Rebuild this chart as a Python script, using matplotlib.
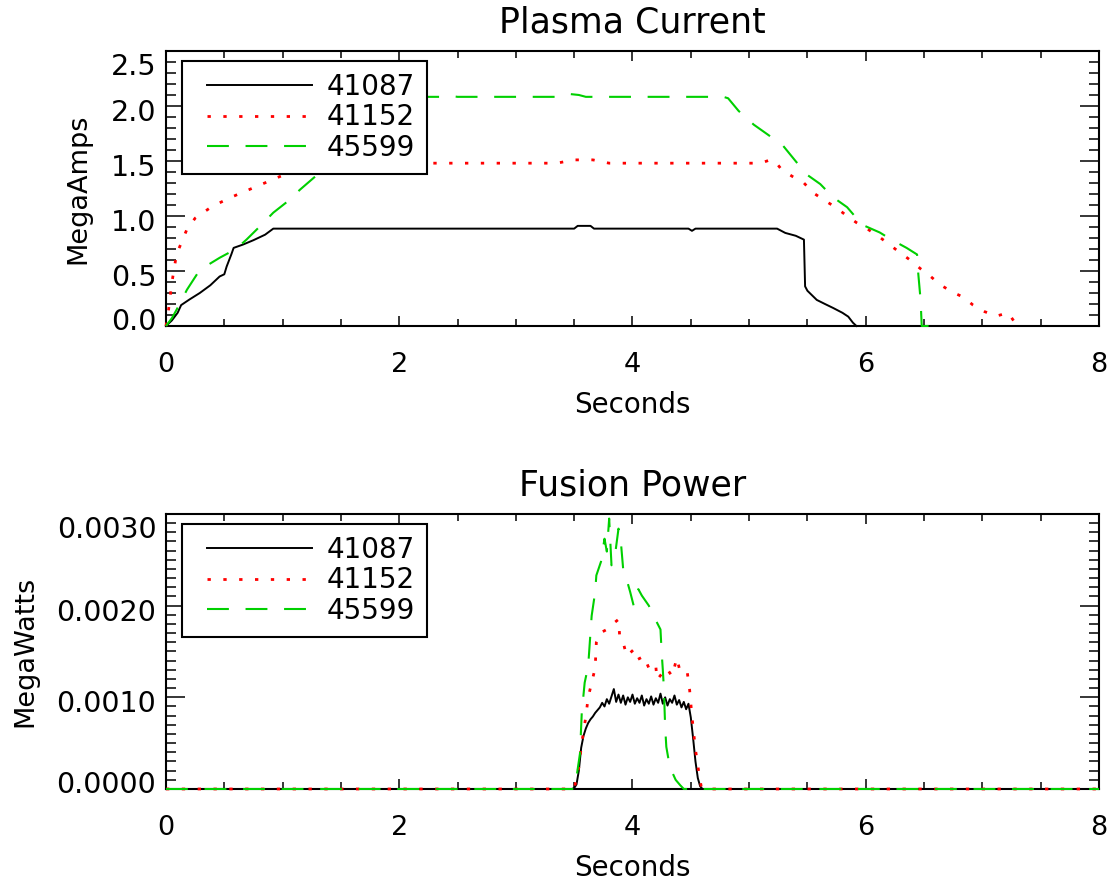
import numpy as np
import matplotlib
matplotlib.use("Agg")
import matplotlib.pyplot as plt
import matplotlib.transforms as mtransforms
from matplotlib.ticker import MultipleLocator, FormatStrFormatter
from matplotlib.legend_handler import HandlerLine2D

# shot numbers and colours
shots = ["41087", "41152", "45599"]
colors = ["black", "#ff0000", "#00d000"]

# plasma current (MA) vs time (s)
t_ip_41087 = [0.00, 0.05, 0.10, 0.13, 0.20, 0.29, 0.38, 0.46, 0.50, 0.52, 0.56, 0.58, 0.66, 0.75,
              0.85, 0.92, 0.95, 2.00, 3.50, 3.53, 3.64, 3.67, 4.48, 4.51, 4.54, 5.24, 5.31, 5.40,
              5.47, 5.48, 5.50, 5.58, 5.65, 5.72, 5.80, 5.85, 5.89, 5.92]
ip_41087 = [0.00, 0.05, 0.12, 0.19, 0.24, 0.30, 0.37, 0.45, 0.47, 0.54, 0.65, 0.71, 0.74, 0.78,
            0.83, 0.885, 0.885, 0.885, 0.885, 0.91, 0.91, 0.885, 0.885, 0.865, 0.885, 0.885, 0.846, 0.82,
            0.785, 0.36, 0.32, 0.237, 0.20, 0.164, 0.12, 0.085, 0.03, 0.00]

t_ip_41152 = [0.00, 0.02, 0.05, 0.09, 0.18, 0.25, 0.40, 0.58, 0.78, 0.98, 1.18, 1.26, 1.40, 2.00,
              3.00, 3.35, 3.50, 3.66, 3.80, 4.50, 5.10, 5.18, 5.22, 5.28, 5.37, 5.47, 5.55, 5.65,
              5.74, 5.84, 5.92, 6.01, 6.11, 6.19, 6.29, 6.38, 6.47, 6.55, 6.64, 6.74, 6.84, 6.92,
              7.02, 7.12, 7.22, 7.30]
ip_41152 = [0.00, 0.13, 0.39, 0.65, 0.88, 0.98, 1.09, 1.18, 1.27, 1.36, 1.45, 1.48, 1.48, 1.48,
            1.48, 1.48, 1.51, 1.51, 1.48, 1.48, 1.48, 1.51, 1.50, 1.42, 1.36, 1.30, 1.21, 1.14,
            1.08, 1.00, 0.94, 0.885, 0.815, 0.75, 0.67, 0.60, 0.52, 0.456, 0.374, 0.31, 0.26, 0.19,
            0.13, 0.09, 0.12, 0.00]

t_ip_45599 = [0.00, 0.05, 0.09, 0.18, 0.29, 0.46, 0.60, 0.69, 0.80, 0.92, 1.04, 1.15, 1.27, 1.38,
              1.50, 1.61, 1.71, 1.81, 1.95, 2.09, 2.15, 2.40, 2.45, 2.50, 3.36, 3.45, 3.54, 3.60,
              4.00, 4.78, 4.82, 4.91, 5.04, 5.16, 5.29, 5.39, 5.49, 5.61, 5.72, 5.84, 5.97, 6.12,
              6.22, 6.35, 6.44, 6.45, 6.47, 6.48, 6.61]
ip_45599 = [0.00, 0.07, 0.146, 0.33, 0.51, 0.62, 0.70, 0.785, 0.90, 1.03, 1.13, 1.24, 1.35, 1.45,
            1.56, 1.67, 1.76, 1.85, 1.94, 2.09, 2.083, 2.083, 2.09, 2.083, 2.083, 2.11, 2.10, 2.083,
            2.083, 2.083, 2.07, 1.955, 1.83, 1.74, 1.64, 1.51, 1.38, 1.29, 1.17, 1.08, 0.92, 0.85,
            0.785, 0.71, 0.65, 0.48, 0.24, 0.00, 0.00]

# fusion power, in units of 1e-4 MW
t_pf_41087 = [0.00, 3.48, 3.50, 3.52, 3.54, 3.56, 3.58, 3.60, 3.62, 3.64, 3.66, 3.68, 3.70, 3.72,
              3.74, 3.76, 3.78, 3.80, 3.82, 3.84, 3.86, 3.88, 3.90, 3.92, 3.94, 3.96, 3.98, 4.00,
              4.02, 4.04, 4.06, 4.08, 4.10, 4.12, 4.14, 4.16, 4.18, 4.20, 4.22, 4.24, 4.26, 4.28,
              4.30, 4.32, 4.34, 4.36, 4.38, 4.40, 4.42, 4.44, 4.46, 4.48, 4.50, 4.52, 4.54, 4.56,
              4.58, 4.60, 8.00]
pf_41087 = [0.0, 0.0, 0.1, 0.5, 2.0, 4.5, 5.8, 6.6, 7.2, 7.6, 7.9, 8.3, 8.6, 8.9,
            9.4, 9.0, 9.8, 9.3, 10.1, 10.9, 9.5, 10.3, 9.4, 10.2, 9.2, 10.0, 9.5, 10.3,
            9.3, 9.9, 9.4, 10.2, 9.1, 9.8, 9.3, 10.1, 9.2, 9.9, 9.4, 10.4, 9.3, 10.0,
            9.1, 9.8, 9.4, 10.2, 9.2, 9.7, 8.9, 9.5, 8.7, 9.3, 7.8, 5.5, 3.0, 1.2,
            0.3, 0.0, 0.0]

t_pf_41152 = [0.00, 3.50, 3.54, 3.565, 3.60, 3.62, 3.65, 3.68, 3.69, 3.72, 3.78, 3.85, 3.88, 3.89,
              3.92, 3.95, 4.01, 4.04, 4.10, 4.12, 4.15, 4.20, 4.21, 4.29, 4.34, 4.38, 4.41, 4.47,
              4.49, 4.51, 4.54, 4.57, 4.59, 4.61, 8.00]
pf_41152 = [0.0, 0.0, 2.4, 5.0, 7.9, 10.0, 11.6, 13.2, 16.0, 17.0, 17.4, 18.2, 18.5, 16.7,
            16.0, 14.5, 15.2, 14.1, 14.5, 13.8, 12.9, 13.4, 11.9, 13.2, 12.3, 14.3, 12.7, 12.7,
            10.8, 7.9, 4.3, 1.7, 0.2, 0.0, 0.0]

t_pf_45599 = [0.00, 3.50, 3.52, 3.55, 3.565, 3.59, 3.62, 3.64, 3.65, 3.68, 3.69, 3.73, 3.76, 3.78,
              3.80, 3.82, 3.85, 3.88, 3.90, 3.92, 3.94, 3.98, 4.01, 4.05, 4.08, 4.14, 4.18, 4.24,
              4.25, 4.26, 4.27, 4.275, 4.28, 4.29, 4.32, 4.37, 4.41, 4.44, 8.00]
pf_45599 = [0.0, 0.0, 1.3, 3.9, 8.3, 11.6, 13.4, 17.1, 18.9, 21.5, 23.3, 24.8, 27.3, 25.9,
            29.5, 24.4, 25.5, 28.4, 27.0, 24.0, 23.3, 21.5, 20.0, 21.8, 21.1, 20.0, 18.9, 17.4,
            14.9, 13.0, 10.8, 8.7, 6.8, 4.6, 2.4, 1.0, 0.4, 0.0, 0.0]

styles = [dict(linestyle="-", linewidth=1.4),
          dict(linestyle=(0, (1.2, 4.5)), linewidth=2.0),
          dict(linestyle=(0, (10.5, 8.0)), linewidth=1.5)]

plt.rcParams["font.family"] = "DejaVu Sans"

fig = plt.figure(figsize=(11.11, 8.88), dpi=100)
ax1 = fig.add_axes([0.1494, 0.6329, 0.8398, 0.3097])
ax2 = fig.add_axes([0.1494, 0.1115, 0.8398, 0.3097])


def style_axis(ax, ymajor, yminor, fmt):
    ax.set_xlim(0, 8)
    ax.xaxis.set_major_locator(MultipleLocator(2))
    ax.xaxis.set_minor_locator(MultipleLocator(0.5))
    ax.yaxis.set_major_locator(MultipleLocator(ymajor))
    ax.yaxis.set_minor_locator(MultipleLocator(yminor))
    ax.yaxis.set_major_formatter(FormatStrFormatter(fmt))
    ax.tick_params(axis="both", which="both", direction="in", top=True, right=True, width=1.1)
    ax.tick_params(axis="x", which="major", length=7, pad=19, labelsize=19.5)
    ax.tick_params(axis="x", which="minor", length=5)
    ax.tick_params(axis="y", which="major", length=14, pad=7, labelsize=20.5)
    ax.tick_params(axis="y", which="minor", length=7)
    for s in ax.spines.values():
        s.set_linewidth(1.5)
    ax.set_xlabel("Seconds", fontsize=20, labelpad=9)


pc = [(t_ip_41087, ip_41087), (t_ip_41152, ip_41152), (t_ip_45599, ip_45599)]
for (t, v), c, st, lab in zip(pc, colors, styles, shots):
    ax1.plot(t, v, color=c, label=lab, clip_on=False, zorder=3, **st)
ax1.set_ylim(0, 2.5)
style_axis(ax1, 0.5, 0.1, "%.1f")
ax1.set_ylabel("MegaAmps", fontsize=19.5, labelpad=14)
ax1.set_title("Plasma Current", fontsize=25, pad=13)

fp = [(t_pf_41087, pf_41087), (t_pf_41152, pf_41152), (t_pf_45599, pf_45599)]
for (t, v), c, st, lab in zip(fp, colors, styles, shots):
    ax2.plot(t, np.array(v) * 1e-4, color=c, label=lab, clip_on=False, zorder=3, **st)
ax2.set_ylim(0, 0.003)
style_axis(ax2, 0.001, 0.0001, "%.4f")
ax2.set_ylabel("MegaWatts", fontsize=19.5, labelpad=13)
ax2.set_title("Fusion Power", fontsize=25, pad=13)

for ax in (ax1, ax2):
    leg = ax.legend(loc="upper left", bbox_to_anchor=(0.0171, 0.9636), borderaxespad=0,
                    fontsize=20, handlelength=4.25, handletextpad=0.54, labelspacing=0.1,
                    borderpad=0.42, fancybox=False, framealpha=1, edgecolor="black",
                    handler_map={matplotlib.lines.Line2D: HandlerLine2D(xpad=0.47)})
    leg.get_frame().set_linewidth(1.5)

# IDL-like placement of the y tick labels: end labels kept inside the axis range
fig.canvas.draw()
for ax in (ax1, ax2):
    lo, hi = ax.get_ylim()
    eps = (hi - lo) * 1e-3
    for tick in ax.yaxis.get_major_ticks():
        loc = tick.get_loc()
        if abs(loc - lo) < eps:
            dy = 7
        elif abs(loc - hi) < eps:
            dy = -13
        else:
            dy = -4
        lb = tick.label1
        off = mtransforms.ScaledTranslation(0, dy / 100.0, fig.dpi_scale_trans)
        lb.set_transform(lb.get_transform() + off)

fig.savefig("out.png", dpi=100)
